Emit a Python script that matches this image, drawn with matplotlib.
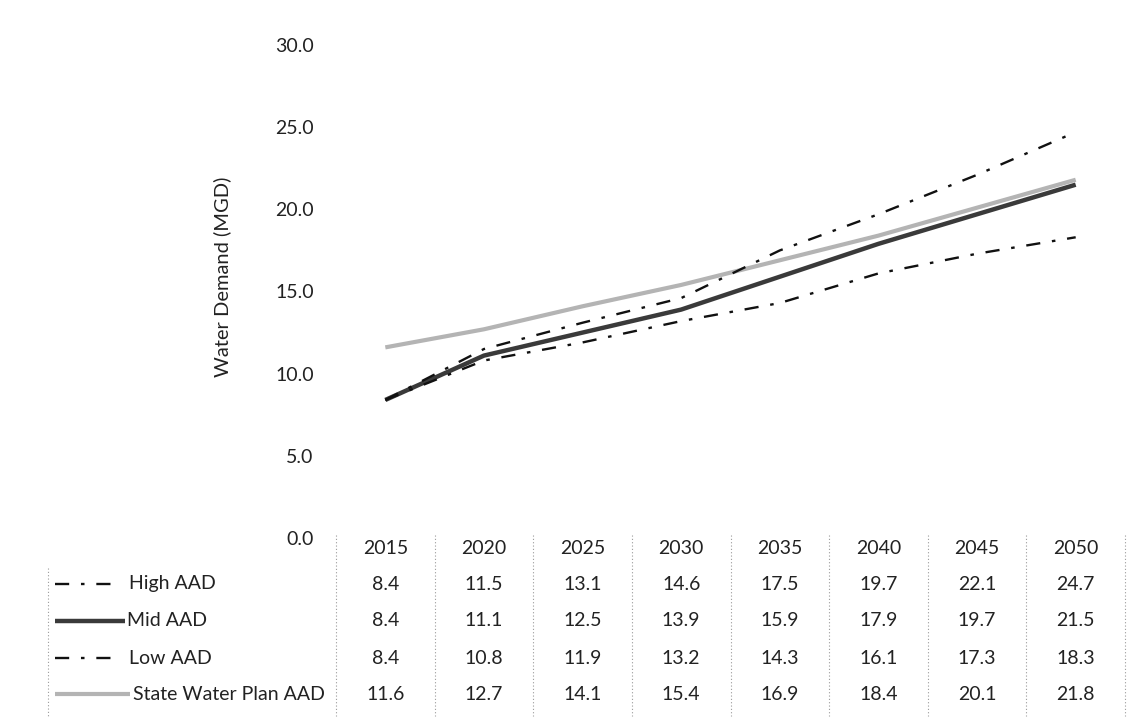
import matplotlib.pyplot as plt
from matplotlib.lines import Line2D
from matplotlib.transforms import blended_transform_factory

years = ["2015", "2020", "2025", "2030", "2035", "2040", "2045", "2050"]
high_aad = [8.4, 11.5, 13.1, 14.6, 17.5, 19.7, 22.1, 24.7]
mid_aad = [8.4, 11.1, 12.5, 13.9, 15.9, 17.9, 19.7, 21.5]
low_aad = [8.4, 10.8, 11.9, 13.2, 14.3, 16.1, 17.3, 18.3]
swp_aad = [11.6, 12.7, 14.1, 15.4, 16.9, 18.4, 20.1, 21.8]
series_names = ["High AAD", "Mid AAD", "Low AAD", "State Water Plan AAD"]

plt.rcParams["font.family"] = ["Lato", "DejaVu Sans"]
FS = 14
TXT = "#222222"

W, H = 1143, 726
fig = plt.figure(figsize=(W / 100, H / 100), dpi=100)
fig.patch.set_facecolor("white")

left, right, top, bottom = 336, 1125, 45, 538
ax = fig.add_axes([left / W, 1 - bottom / H, (right - left) / W, (bottom - top) / H])

x = list(range(len(years)))
styles = [
    dict(color="#111111", lw=1.7, ls=(0, (6, 5, 1.5, 5))),
    dict(color="#3a3a3a", lw=3.2, ls="-"),
    dict(color="#111111", lw=1.7, ls=(0, (6, 5, 1.5, 5))),
    dict(color="#b4b4b4", lw=3.0, ls="-"),
]
series = [high_aad, mid_aad, low_aad, swp_aad]
zorders = [4, 3, 4, 2]
for vals, st, z in zip(series, styles, zorders):
    ax.plot(x, vals, zorder=z, solid_capstyle="butt", **st)

ax.set_xlim(-0.5, len(years) - 0.5)
ax.set_ylim(0, 30)
yt = [0, 5, 10, 15, 20, 25, 30]
ax.set_yticks(yt)
ax.set_yticklabels([f"{v:.1f}" for v in yt], fontsize=FS, color=TXT)
ax.tick_params(axis="y", length=0, pad=16)
ax.set_xticks([])
for s in ax.spines.values():
    s.set_visible(False)
ax.set_ylabel("Water Demand (MGD)", fontsize=14.5, color=TXT)
ax.yaxis.set_label_coords((231 - left) / (right - left), (bottom - 277) / (bottom - top))

# data table under the plot
trans = blended_transform_factory(ax.transData, fig.transFigure)
def fy(py):
    return 1 - py / H

header_y = 549
row_ys = [584, 621, 658, 694]
for i, yr in enumerate(years):
    ax.text(i, fy(header_y), yr, transform=trans, ha="center", va="center",
            fontsize=FS, color=TXT)
for r, vals in enumerate(series):
    for i, v in enumerate(vals):
        ax.text(i, fy(row_ys[r]), f"{v:.1f}", transform=trans, ha="center", va="center",
                fontsize=FS, color=TXT)

# row labels with line samples
sample_ends = [120, 125, 120, 130]
text_starts = [129, 127, 129, 133]
for r, name in enumerate(series_names):
    yy = fy(row_ys[r])
    st = styles[r]
    fig.add_artist(Line2D([55 / W, sample_ends[r] / W], [yy, yy], color=st["color"],
                          lw=st["lw"], ls=st["ls"], solid_capstyle="butt"))
    fig.text(text_starts[r] / W, yy, name, ha="left", va="center", fontsize=FS, color=TXT)

# dotted cell separators
sep_kw = dict(color="#9a9a9a", lw=0.8, ls=(0, (1, 2)))
for i in range(len(years) + 1):
    xp = left + (right - left) * i / len(years)
    fig.add_artist(Line2D([xp / W, xp / W], [fy(535), fy(716)], **sep_kw))
fig.add_artist(Line2D([48 / W, 48 / W], [fy(568), fy(716)], **sep_kw))

fig.savefig("out.png", dpi=100, facecolor="white")
